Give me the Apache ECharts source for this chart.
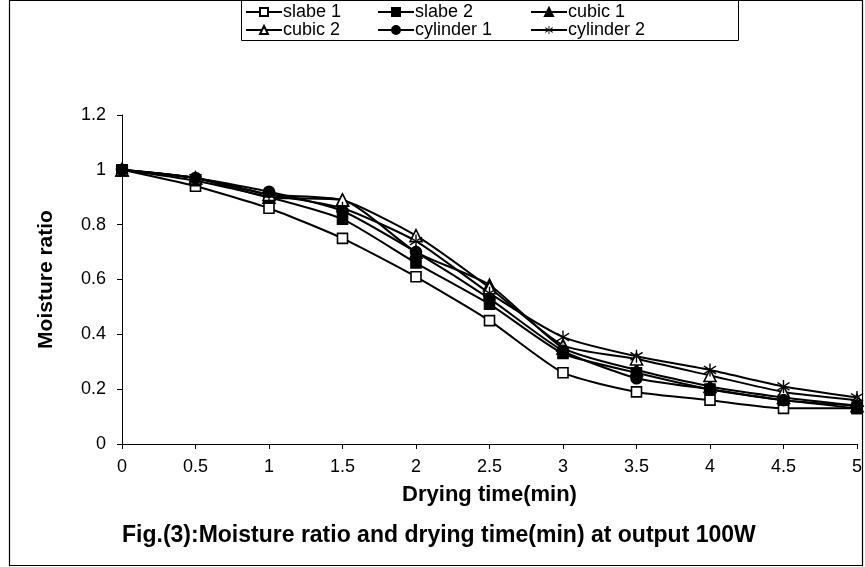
<!DOCTYPE html>
<html><head><meta charset="utf-8">
<script src="https://cdn.jsdelivr.net/npm/echarts@6/dist/echarts.min.js"></script>
<style>html,body{margin:0;padding:0;background:#fff}#c{width:865px;height:567px}</style>
</head><body><div id="c"></div>
<script>
var times = [0,0.5,1,1.5,2,2.5,3,3.5,4,4.5,5];
var slabe1 = [1,0.94,0.86,0.75,0.61,0.45,0.26,0.19,0.16,0.13,0.13];
var slabe2 = [1,0.96,0.90,0.82,0.66,0.51,0.33,0.26,0.20,0.16,0.13];
var cubic1 = [1,0.97,0.90,0.89,0.70,0.58,0.35,0.27,0.21,0.17,0.14];
var cubic2 = [1,0.97,0.91,0.89,0.76,0.57,0.36,0.31,0.25,0.19,0.16];
var cylinder1 = [1,0.97,0.92,0.85,0.70,0.53,0.34,0.24,0.20,0.16,0.14];
var cylinder2 = [1,0.97,0.91,0.86,0.74,0.55,0.39,0.32,0.27,0.21,0.17];
var names = ['slabe 1','slabe 2','cubic 1','cubic 2','cylinder 1','cylinder 2'];

var star = 'path://M9.1 0 L10.9 0 L10.9 20 L9.1 20 Z M1.4 4.8 L2.6 3.2 L18.6 15.2 L17.4 16.8 Z M1.4 15.2 L2.6 16.8 L18.6 4.8 L17.4 3.2 Z';
function pts(arr){ return arr.map(function(v,i){ return [times[i], v]; }); }
function mk(name, data, symbol, filled, size){
  return {
    name: name, type: 'line', data: pts(data), smooth: 0.2,
    symbol: symbol, symbolSize: size,
    lineStyle: {color: '#000', width: 2},
    itemStyle: {color: filled ? '#000' : '#fff', borderColor: '#000', borderWidth: symbol===star ? 0 : 1.6},
    emphasis: {disabled: true}, z: 2
  };
}
var series = [
  mk(names[0], slabe1, 'rect', false, 10),
  mk(names[1], slabe2, 'rect', true, 10),
  mk(names[2], cubic1, 'triangle', true, 12),
  mk(names[3], cubic2, 'triangle', false, 12),
  mk(names[4], cylinder1, 'circle', true, 11),
  mk(names[5], cylinder2, star, true, 13)
];

var font = 'Liberation Sans, Arial, sans-serif';
function leg(left, items){
  return {left: left, top: 3, padding: 0, orient: 'vertical', itemGap: 0, itemWidth: 36, itemHeight: 10,
    data: items, textStyle: {fontFamily: font, fontSize: 18, color: '#000', padding: [0,0,0,-4]},
    selectedMode: false};
}
var chart = echarts.init(document.getElementById('c'), null, {renderer: 'canvas'});
chart.setOption({
  animation: false,
  backgroundColor: '#fff',
  legend: [leg(245, [names[0], names[3]]), leg(377, [names[1], names[4]]), leg(530, [names[2], names[5]])],
  title: {text: 'Fig.(3):Moisture ratio and drying time(min) at output 100W', left: 117, top: 519,
    textStyle: {fontFamily: font, fontSize: 23, fontWeight: 'bold', color: '#000'}},
  grid: {left: 122, right: 8, top: 115, bottom: 123},
  xAxis: {type: 'value', min: 0, max: 5, interval: 0.5,
    name: 'Drying time(min)', nameLocation: 'middle', nameGap: 40,
    nameTextStyle: {fontFamily: font, fontSize: 22, fontWeight: 'bold', color: '#000'},
    axisLine: {lineStyle: {color: '#000', width: 1}},
    axisTick: {show: true, length: 5, lineStyle: {color: '#000'}},
    axisLabel: {fontFamily: font, fontSize: 18, color: '#000', margin: 14,
      formatter: function(v){ return String(v); }},
    splitLine: {show: false}},
  yAxis: {type: 'value', min: 0, max: 1.2, interval: 0.2,
    name: 'Moisture ratio', nameLocation: 'middle', nameGap: 65, nameRotate: 90,
    nameTextStyle: {fontFamily: font, fontSize: 21, fontWeight: 'bold', color: '#000'},
    axisLine: {show: true, lineStyle: {color: '#000', width: 1}},
    axisTick: {show: true, length: 5, lineStyle: {color: '#000'}},
    axisLabel: {fontFamily: font, fontSize: 18, color: '#000', margin: 16,
      formatter: function(v){ return String(Math.round(v*10)/10); }},
    splitLine: {show: false}},
  graphic: [
    {type: 'rect', shape: {x: 9.5, y: 0.5, width: 853, height: 565}, style: {fill: null, stroke: '#000', lineWidth: 1.2}, silent: true, z: -1},
    {type: 'rect', shape: {x: 241.5, y: 0.5, width: 497, height: 40}, style: {fill: '#fff', stroke: '#000', lineWidth: 1}, silent: true, z: -1}
  ],
  series: series
});
</script></body></html>
